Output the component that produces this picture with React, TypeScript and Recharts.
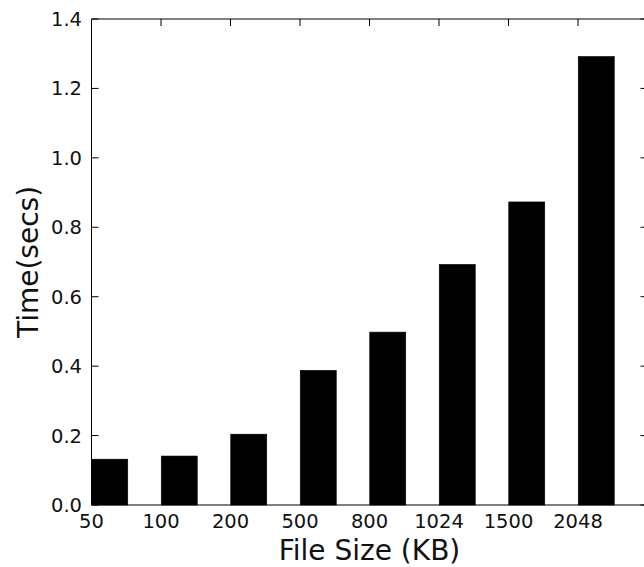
import React from "react"
import { BarChart, Bar, XAxis, YAxis, Label, ReferenceLine } from "recharts"

const FILE_SIZES = ["50", "100", "200", "500", "800", "1024", "1500", "2048"]
const TIMES = [0.132, 0.141, 0.204, 0.388, 0.498, 0.693, 0.873, 1.292]
const Y_TICKS = [0, 0.2, 0.4, 0.6, 0.8, 1.0, 1.2, 1.4]
const X_TICKS = FILE_SIZES.map((_, i) => i)

const data = FILE_SIZES.map((size, i) => ({ idx: i, size, time: TIMES[i] }))

const FONT = "'DejaVu Sans', Verdana, sans-serif"
const TICK_LEN = 7
const TICK_FONT = 19.5
const LABEL_FONT = 28
const INK = "#111"

function BottomTick(props: any) {
  const { x, y, payload } = props
  return (
    <text x={x} y={y + 22.5} textAnchor="middle" fontSize={TICK_FONT} fontFamily={FONT} fill={INK}>
      {FILE_SIZES[payload.value] ?? ""}
    </text>
  )
}

function TopTick(props: any) {
  const { x, y } = props
  return <path d={`M${x},${y}V${y + TICK_LEN}`} stroke="#000" strokeWidth={1} fill="none" />
}

function LeftTick(props: any) {
  const { x, y, payload } = props
  return (
    <text x={x - 9.5} y={y + 7} textAnchor="end" fontSize={TICK_FONT} fontFamily={FONT} fill={INK}>
      {Number(payload.value).toFixed(1)}
    </text>
  )
}

// inward tick marks on the left and right spines for one y value
function SideTicks(props: any) {
  const { x1, x2, y1 } = props
  const left = Math.min(x1, x2)
  const right = Math.max(x1, x2)
  return (
    <path
      d={`M${left},${y1}H${left + TICK_LEN}M${right - TICK_LEN},${y1}H${right}`}
      stroke="#000"
      strokeWidth={1}
      fill="none"
    />
  )
}

// matplotlib-style bar aligned on its left edge (align="edge")
function EdgeBar(props: any) {
  const { x, y, width, height } = props
  if (height == null || height <= 0) return null
  return <rect x={x + width / 2} y={y} width={width} height={height} fill="#000" stroke="#000" strokeWidth={0.6} />
}

export default function App() {
  return (
    <div
      style={{
        position: "fixed",
        left: 0,
        top: 0,
        width: 644,
        height: 567,
        overflow: "hidden",
        background: "#fff",
      }}
    >
      <BarChart
        width={680}
        height={567}
        data={data}
        margin={{ top: 18, right: 31.5, bottom: 61, left: 0 }}
      >
        <XAxis
          xAxisId="bottom"
          dataKey="idx"
          type="number"
          domain={[0, 8]}
          ticks={X_TICKS}
          interval={0}
          orientation="bottom"
          height={1}
          tickSize={0}
          tickMargin={0}
          tickLine={false}
          axisLine={{ stroke: "#000", strokeWidth: 1 }}
          tick={<BottomTick />}
        >
          <Label
            content={(p: any) => {
              const vb = p.viewBox
              return (
                <text
                  x={vb.x + vb.width / 2}
                  y={560}
                  textAnchor="middle"
                  fontSize={LABEL_FONT}
                  fontFamily={FONT}
                  fill={INK}
                >
                  File Size (KB)
                </text>
              )
            }}
          />
        </XAxis>
        <XAxis
          xAxisId="top"
          dataKey="idx"
          type="number"
          domain={[0, 8]}
          ticks={X_TICKS}
          interval={0}
          orientation="top"
          height={1}
          tickSize={0}
          tickMargin={0}
          tickLine={false}
          axisLine={{ stroke: "#000", strokeWidth: 1 }}
          tick={<TopTick />}
        />
        <YAxis
          yAxisId="left"
          type="number"
          domain={[0, 1.4]}
          ticks={Y_TICKS}
          interval={0}
          orientation="left"
          width={91.5}
          tickSize={0}
          tickMargin={0}
          tickLine={false}
          axisLine={{ stroke: "#000", strokeWidth: 1 }}
          tick={<LeftTick />}
        >
          <Label
            content={(p: any) => {
              const vb = p.viewBox
              const cx = 38
              const cy = vb.y + vb.height / 2
              return (
                <text
                  x={cx}
                  y={cy}
                  transform={`rotate(-90, ${cx}, ${cy})`}
                  textAnchor="middle"
                  fontSize={LABEL_FONT}
                  fontFamily={FONT}
                  fill={INK}
                >
                  Time(secs)
                </text>
              )
            }}
          />
        </YAxis>
        <YAxis
          yAxisId="right"
          type="number"
          domain={[0, 1.4]}
          ticks={Y_TICKS}
          interval={0}
          orientation="right"
          width={1}
          tickSize={0}
          tickMargin={0}
          tickLine={false}
          tick={false}
          axisLine={{ stroke: "#000", strokeWidth: 1 }}
        />
        {Y_TICKS.map((v) => (
          <ReferenceLine
            key={v}
            y={v}
            xAxisId="bottom"
            yAxisId="left"
            ifOverflow="visible"
            shape={<SideTicks />}
          />
        ))}
        <Bar
          dataKey="time"
          xAxisId="bottom"
          yAxisId="left"
          barSize={36}
          shape={<EdgeBar />}
          isAnimationActive={false}
        />
      </BarChart>
    </div>
  )
}
